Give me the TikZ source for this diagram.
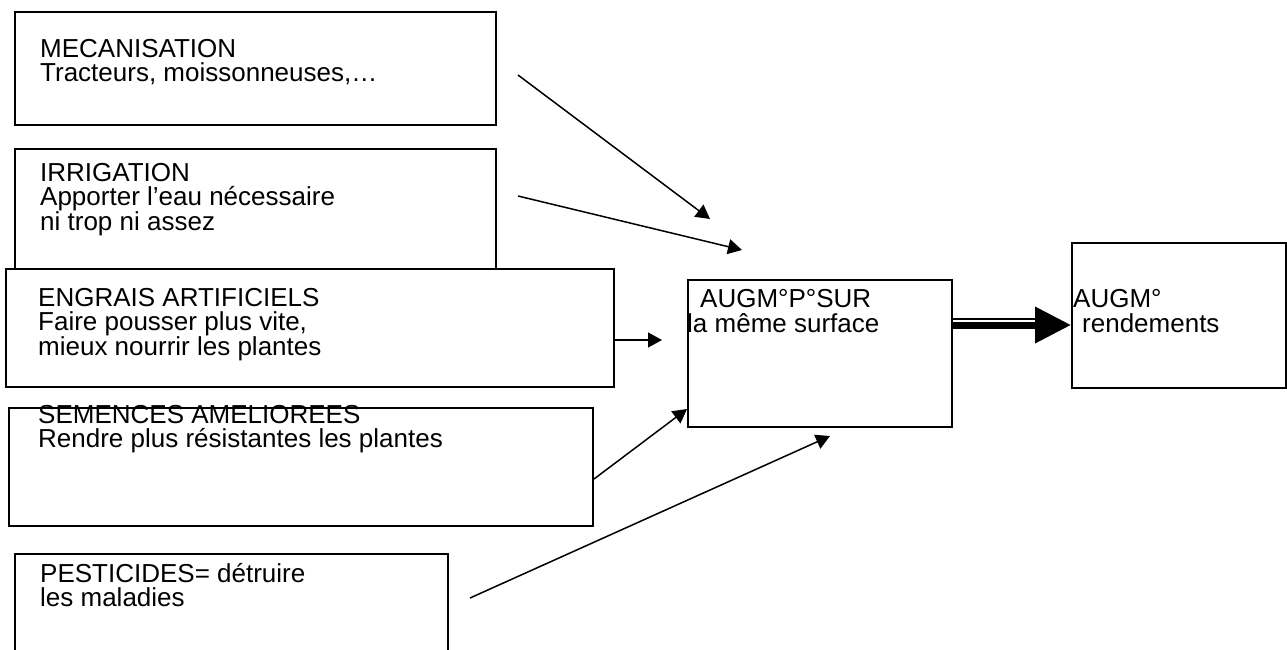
\documentclass[tikz,border=0pt]{standalone}
\usepackage{fontspec}
\setmainfont{Liberation Sans}
\usetikzlibrary{arrows.meta}

\tikzset{
  boite/.style={draw, line width=2pt, inner sep=0pt, anchor=north west},
  texte/.style={inner sep=0pt, anchor=north west, align=left, font=\fontsize{26}{24.5}\selectfont},
  grand/.style={texte, font=\fontsize{26}{25.5}\selectfont},
  fleche/.style={line width=1.5pt, -{Triangle[length=14pt,width=15pt]}},
}

\begin{document}
\begin{tikzpicture}[x=1pt,y=-1pt]
\useasboundingbox (0,0) rectangle (1287,649);

% boites de gauche
\node[boite, minimum width=481pt, minimum height=113pt] (meca) at (14,11) {};
\node[boite, minimum width=481pt, minimum height=120pt] (irri) at (14,148) {};
\node[boite, fill=white, minimum width=608pt, minimum height=118pt] (engr) at (5,268) {};
\node[boite, minimum width=584pt, minimum height=118pt] (seme) at (8,407) {};
\node[boite, minimum width=433pt, minimum height=100pt] (pest) at (14,553) {};

\node[texte] (mecatxt) at (40,39) {MECANISATION\\Tracteurs, moissonneuses,…};
\node[texte] (irritxt) at (40,163) {IRRIGATION\\Apporter l’eau nécessaire\\ni trop ni assez};
\node[texte] (engrtxt) at (38,288) {ENGRAIS ARTIFICIELS\\Faire pousser plus vite,\\mieux nourrir les plantes};
\node[texte] (semetxt) at (38,405) {SEMENCES AMELIOREES\\Rendre plus résistantes les plantes};
\node[texte] (pesttxt) at (40,563) {PESTICIDES= détruire\\les maladies};

% boites de droite
\node[boite, minimum width=264pt, minimum height=147pt] (augm) at (687,279) {};
\node[boite, minimum width=214pt, minimum height=145pt] (rend) at (1071,242) {};
\node[grand] (augmtxt) at (687,289) {\hspace*{13pt}AUGM°P°SUR\\la même surface};
\node[grand] (rendtxt) at (1073,289) {AUGM°\\\hspace*{9pt}rendements};

% fleches
\coordinate (m1) at (518,75);
\coordinate (m2) at (710,219);
\coordinate (i1) at (518,196);
\coordinate (i2) at (742,250);
\coordinate (e2) at (662,340);
\coordinate (p1) at (470,598);
\coordinate (p2) at (830,436);
\coordinate (dbl) at (0,325);
\coordinate (dbh) at (0,318.5);

\draw[fleche] (m1) -- (m2);
\draw[fleche] (i1) -- (i2);
\draw[fleche] (engr.east |- e2) -- (e2);
\draw[fleche] ([yshift=-12pt]seme.east) -- ([yshift=19pt]augm.south west);
\draw[fleche] (p1) -- (p2);

\draw[line width=2pt] (augm.east |- dbh) -- ++(85,0);
\draw[line width=7pt, -{Triangle[length=36pt,width=35pt]}] (augm.east |- dbl) -- (rend.west |- dbl);
\end{tikzpicture}
\end{document}
